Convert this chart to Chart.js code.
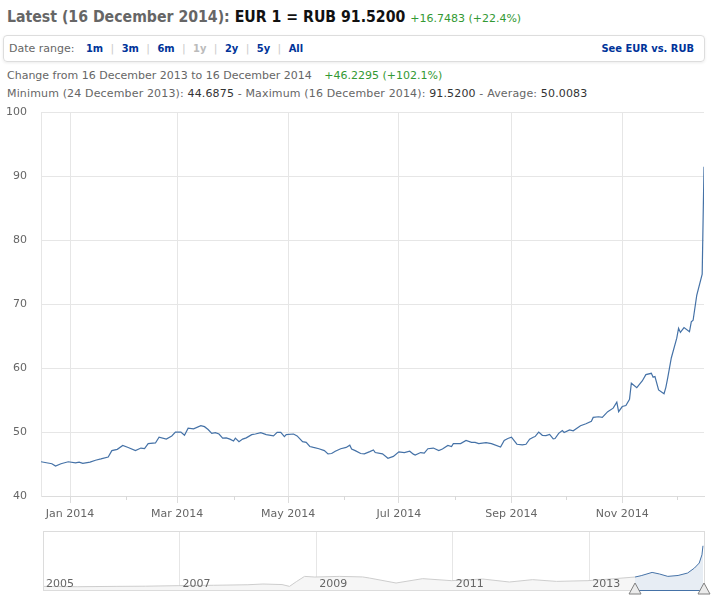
<!DOCTYPE html>
<html>
<head>
<meta charset="utf-8">
<title>EUR / RUB</title>
<script src="https://cdn.jsdelivr.net/npm/chart.js@4.4.1/dist/chart.umd.min.js"></script>
<style>
  body { margin: 0; background: #fff; font-family: 'DejaVu Sans', Verdana, sans-serif; font-size: 11px; color: #666; }
  #page { position: relative; width: 722px; height: 601px; overflow: hidden; }
  #title { position: absolute; left: 7px; top: 7px; font: bold 15.7px/20px 'DejaVu Sans Condensed', 'DejaVu Sans', sans-serif; color: #111; white-space: nowrap; }
  #title .grey { color: #666; }
  .up { color: #339933; font-weight: normal; font-size: 11px; font-family: 'DejaVu Sans', Verdana, sans-serif; }
  #range { position: absolute; left: 3px; top: 35px; width: 702px; height: 27px; box-sizing: border-box;
           border: 1px solid #ddd; border-radius: 4px; box-shadow: 0 1px 3px rgba(0,0,0,0.08);
           line-height: 25px; padding-left: 5px; white-space: nowrap; }
  #range a, #range .off { color: #003399; font-weight: bold; text-decoration: none; font-family: 'DejaVu Sans Condensed', 'DejaVu Sans', sans-serif; }
  #range .off { color: #bbb; }
  #range .sep { color: #ccc; margin: 0 7.4px; }
  #range .lbl { margin-right: 11.5px; }
  #range .vs { position: absolute; right: 10px; top: 0; }
  .line { position: absolute; left: 7px; line-height: 14px; white-space: nowrap; }
  .line b { color: #333; font-weight: normal; }
  #main { position: absolute; left: 0; top: 92px; }
  #nav { position: absolute; left: 0; top: 525px; }
</style>
</head>
<body>
<div id="page">
  <div id="title"><span class="grey">Latest (16 December 2014):</span> EUR 1 = RUB 91.5200 <span class="up">+16.7483 (+22.4%)</span></div>
  <div id="range">
    <span class="lbl">Date range:</span><a href="#">1m</a><span class="sep">|</span><a href="#">3m</a><span class="sep">|</span><a href="#">6m</a><span class="sep">|</span><span class="off">1y</span><span class="sep">|</span><a href="#">2y</a><span class="sep">|</span><a href="#">5y</a><span class="sep">|</span><a href="#">All</a>
    <a class="vs" href="#">See EUR vs. RUB</a>
  </div>
  <div class="line" style="top:69px">Change from 16 December 2013 to 16 December 2014 <span class="up" style="margin-left:9px">+46.2295 (+102.1%)</span></div>
  <div class="line" style="top:87px; letter-spacing:0.15px">Minimum (24 December 2013): <b>44.6875</b> - Maximum (16 December 2014): <b>91.5200</b> - Average: <b>50.0083</b></div>
  <div id="main"><canvas id="rateChart" width="722" height="438"></canvas></div>
  <div id="nav"><canvas id="navChart" width="722" height="76"></canvas></div>
</div>
<script>
// EUR/RUB daily rate, 16 Dec 2013 - 16 Dec 2014 (x = days since 16 Dec 2013)
const startDate = Date.UTC(2013, 11, 16);
const dayOffsets = [0,3,6,8,11,15,19,21,23,27,30,33,37,39,42,45,48,52,55,57,
  59,63,65,69,72,74,77,79,81,84,88,90,92,94,96,98,100,102,104,106,
  107,109,111,113,116,118,121,124,128,130,132,134,135,139,141,144,146,148,150,153,
  156,158,160,162,165,168,170,171,173,176,178,181,183,184,188,191,194,197,200,203,
  205,206,209,211,213,216,219,221,224,226,227,231,234,237,239,241,245,248,253,255,
  257,259,262,265,267,269,271,272,274,276,278,280,282,283,285,287,288,291,293,297,
  300,303,304,307,309,312,315,317,318,320,322,324,325,328,330,331,333,336,337,338,
  340,343,344,345,347,350,351,352,354,357,358,359,361,364,365];
const rates = [45.36,45.2,45.05,44.69,45.05,45.36,45.2,45.3,45.1,45.3,45.6,45.8,46.1,47.1,47.3,47.9,47.6,47.1,47.5,47.4,
  48.2,48.3,49.2,48.9,49.4,50.0,50.0,49.5,50.6,50.5,51.0,50.85,50.4,49.8,49.9,49.7,49.05,49.1,48.9,48.6,
  49.05,48.5,48.9,49.1,49.6,49.7,49.9,49.6,49.4,49.95,49.95,49.3,49.6,49.7,49.4,48.5,48.4,47.75,47.6,47.4,
  47.1,46.6,46.65,47.0,47.4,47.6,47.95,47.35,47.1,46.65,46.6,46.95,47.2,46.8,46.6,45.9,46.2,46.9,46.8,47.0,
  46.55,46.4,46.8,46.7,47.4,47.5,47.1,47.35,47.9,47.75,48.2,48.2,48.7,48.4,48.4,48.2,48.35,48.2,47.65,48.7,
  49.0,49.2,48.1,48.0,48.1,48.9,49.2,49.3,50.0,49.5,49.45,49.65,48.95,49.0,49.8,50.25,49.95,50.35,50.2,51.0,
  51.3,51.7,52.3,52.4,52.3,53.2,53.75,54.7,53.2,54.0,54.15,55.15,57.65,56.95,57.65,58.0,59.0,59.2,58.6,58.7,
  56.6,56.0,57.0,58.45,61.6,64.7,66.25,65.6,66.35,65.7,67.25,67.5,71.4,74.7,91.52];

const yTicks = [40, 50, 60, 70, 80, 90, 100];
const monthNames = ['Jan','Feb','Mar','Apr','May','Jun','Jul','Aug','Sep','Oct','Nov','Dec'];

// navigator (2005 - 2014), x in years on the navigator axis
const navYears = [2005.0,2005.5,2006.07,2006.5,2006.99,2007.5,2008.0,2008.22,2008.5,2008.61,
  2008.71,2008.83,2008.98,2009.34,2009.68,2009.78,2010.17,2010.56,2010.98,2011.44,
  2011.83,2012.17,2012.52,2012.98,2013.30,2013.67,2013.76,2013.92,2014.03,2014.15,
  2014.30,2014.44,2014.54,2014.61,2014.65,2014.665];
const navRates = [35.0,34.6,35.0,35.2,35.8,36.2,36.8,37.6,37.0,35.0,
  40.2,46.0,45.3,46.0,45.4,44.2,38.7,43.5,41.3,43.1,
  39.8,42.4,40.5,41.3,43.1,45.3,46.8,50.4,48.6,46.0,
  47.0,49.7,55.2,60.7,69.8,79.7];
const navYearTicks = [2005, 2007, 2009, 2011, 2013];
const navSelStart = 2013.67;
const navSelEnd = 2014.68;

Chart.defaults.font.family = "'DejaVu Sans', Verdana, sans-serif";
Chart.defaults.font.size = 11;
Chart.defaults.color = '#666';

// month starts of 2014 as day offsets
const monthTicks = monthNames.map((m, i) => (Date.UTC(2014, i, 1) - startDate) / 86400000);
function monthLabel(v) {
  const i = monthTicks.indexOf(v);
  return i >= 0 && i % 2 === 0 ? monthNames[i] + ' 2014' : '';
}

// short ticks for the unlabelled months
const minorTicks = {
  id: 'minorTicks',
  afterDraw(chart) {
    const x = chart.scales.x, ctx = chart.ctx, b = chart.chartArea.bottom;
    ctx.save();
    ctx.strokeStyle = '#d8d8d8';
    ctx.lineWidth = 1;
    x.ticks.forEach(t => {
      if (t.label) return;
      const px = Math.round(x.getPixelForValue(t.value)) + 0.5;
      ctx.beginPath();
      ctx.moveTo(px, b);
      ctx.lineTo(px, b + 4);
      ctx.stroke();
    });
    ctx.restore();
  }
};

new Chart(document.getElementById('rateChart'), {
  type: 'line',
  data: {
    datasets: [{
      data: dayOffsets.map((d, i) => ({ x: d, y: rates[i] })),
      borderColor: '#4572a7',
      borderWidth: 1.2,
      pointRadius: 0,
      tension: 0,
      fill: false
    }]
  },
  options: {
    responsive: false,
    animation: false,
    layout: { padding: { top: 4, right: 18, left: 0, bottom: 0 } },
    plugins: { legend: { display: false }, tooltip: { enabled: false } },
    scales: {
      x: {
        type: 'linear',
        min: 0,
        max: 365,
        afterBuildTicks: s => { s.ticks = monthTicks.map(v => ({ value: v })); },
        afterFit: s => { s.height = 34; },
        grid: {
          color: c => (c.tick && c.tick.label ? '#e6e6e6' : 'rgba(0,0,0,0)'),
          tickColor: c => (c.tick && c.tick.label ? '#dcdcdc' : 'rgba(0,0,0,0)'),
          tickLength: 7
        },
        border: { color: '#dcdcdc' },
        ticks: { callback: v => monthLabel(v), autoSkip: false, maxRotation: 0, padding: 5, color: '#666' }
      },
      y: {
        min: 40,
        max: 100,
        afterBuildTicks: s => { s.ticks = yTicks.map(v => ({ value: v })); },
        afterFit: s => { s.width = 41; },
        grid: { color: '#e6e6e6', drawTicks: false },
        border: { color: '#e6e6e6' },
        ticks: { padding: 14, color: '#666' }
      }
    }
  },
  plugins: [minorTicks]
});

// navigator frame, year labels inside the plot, selected range outline and handles
const navFrame = {
  id: 'navFrame',
  afterDraw(chart) {
    const { ctx, chartArea: a } = chart;
    const x = chart.scales.x;
    const x0 = x.getPixelForValue(navSelStart), x1 = x.getPixelForValue(navSelEnd);
    ctx.save();
    ctx.fillStyle = '#666';
    ctx.font = "11px 'DejaVu Sans', Verdana, sans-serif";
    ctx.textAlign = 'left';
    ctx.textBaseline = 'alphabetic';
    x.ticks.forEach(t => {
      ctx.fillText(String(t.value), x.getPixelForValue(t.value) + 3, a.bottom - 3);
    });
    ctx.strokeStyle = '#dcdcdc';
    ctx.lineWidth = 1;
    ctx.strokeRect(Math.round(a.left) + 0.5, Math.round(a.top) + 0.5, Math.round(a.width), Math.round(a.height));
    ctx.strokeStyle = '#4572a7';
    ctx.beginPath();
    ctx.moveTo(x0, Math.round(a.bottom) + 0.5);
    ctx.lineTo(x1, Math.round(a.bottom) + 0.5);
    ctx.stroke();
    [x0, x1].forEach(px => {
      ctx.beginPath();
      ctx.moveTo(px, a.bottom - 7);
      ctx.lineTo(px - 6, a.bottom + 4);
      ctx.lineTo(px + 6, a.bottom + 4);
      ctx.closePath();
      ctx.fillStyle = '#ebebeb';
      ctx.fill();
      ctx.strokeStyle = '#808080';
      ctx.stroke();
    });
    ctx.restore();
  }
};

const navPts = navYears.map((yr, i) => ({ x: yr, y: navRates[i] }));
new Chart(document.getElementById('navChart'), {
  type: 'line',
  data: {
    datasets: [{
      data: navPts.filter(p => p.x <= navSelStart),
      borderColor: '#cdcdcd',
      backgroundColor: '#f6f6f6',
      borderWidth: 1,
      pointRadius: 0,
      fill: 'start'
    }, {
      data: navPts.filter(p => p.x >= navSelStart),
      borderColor: '#4572a7',
      backgroundColor: 'rgba(69,114,167,0.13)',
      borderWidth: 1,
      pointRadius: 0,
      fill: 'start'
    }]
  },
  options: {
    responsive: false,
    animation: false,
    layout: { padding: { top: 6, right: 18, left: 43, bottom: 0 } },
    plugins: { legend: { display: false }, tooltip: { enabled: false } },
    scales: {
      x: {
        type: 'linear',
        min: 2005,
        max: navSelEnd,
        afterBuildTicks: s => { s.ticks = navYearTicks.map(v => ({ value: v })); },
        afterFit: s => { s.height = 11; },
        grid: { color: '#e6e6e6', drawTicks: false },
        border: { display: false },
        ticks: { display: false }
      },
      y: { display: false, min: 31, max: 96 }
    }
  },
  plugins: [navFrame]
});
</script>
</body>
</html>
